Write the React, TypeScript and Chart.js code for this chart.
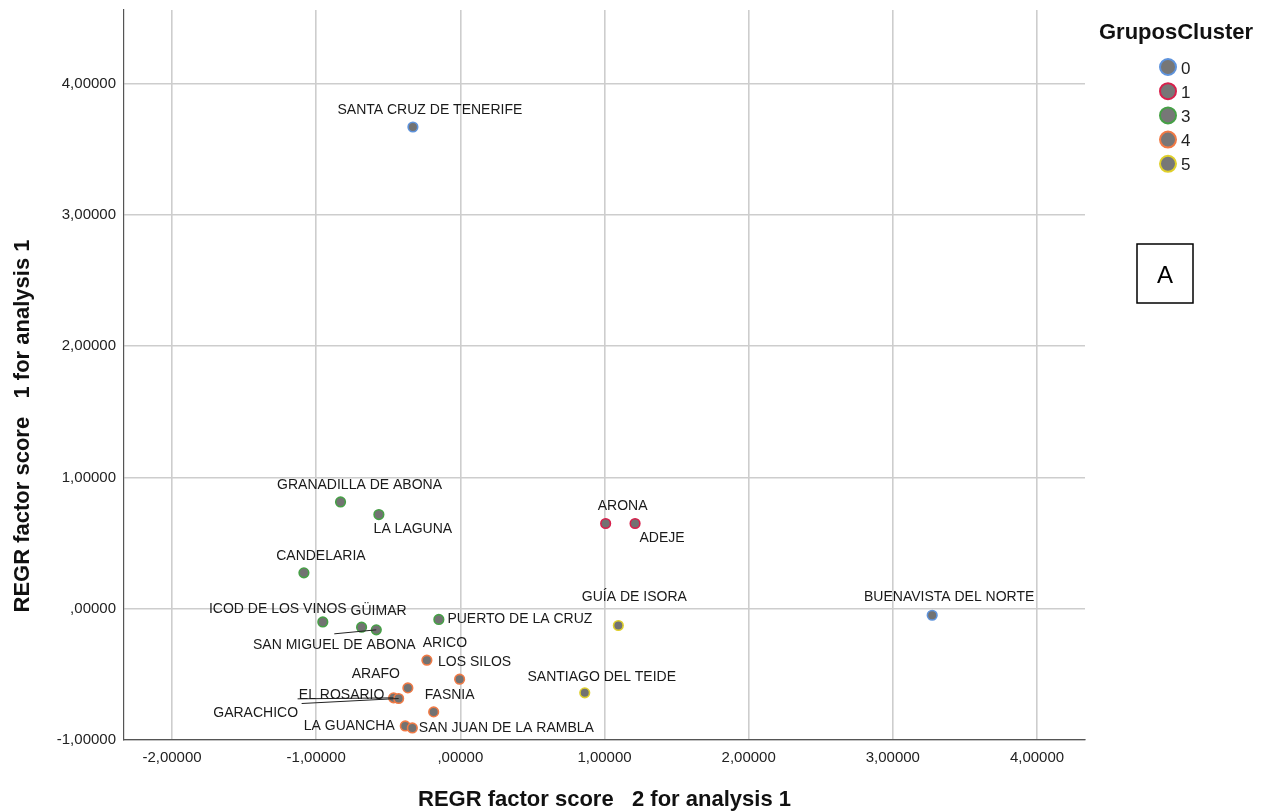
import React, { useEffect, useRef } from "react";
import { Chart, registerables } from "chart.js";

Chart.register(...registerables);

// ---------- data ----------
const municipalities = [
  "SANTA CRUZ DE TENERIFE",
  "BUENAVISTA DEL NORTE",
  "ARONA",
  "ADEJE",
  "GRANADILLA DE ABONA",
  "LA LAGUNA",
  "CANDELARIA",
  "ICOD DE LOS VINOS",
  "GÜIMAR",
  "SAN MIGUEL DE ABONA",
  "PUERTO DE LA CRUZ",
  "ARICO",
  "LOS SILOS",
  "ARAFO",
  "EL ROSARIO",
  "GARACHICO",
  "FASNIA",
  "LA GUANCHA",
  "SAN JUAN DE LA RAMBLA",
  "GUÍA DE ISORA",
  "SANTIAGO DEL TEIDE",
];

// REGR factor score 2 for analysis 1 (x)
const factorScore2 = [
  -0.329, 3.273, 1.008, 1.212, -0.831, -0.565, -1.085, -0.954, -0.685, -0.583,
  -0.149, -0.232, -0.005, -0.364, -0.463, -0.428, -0.185, -0.382, -0.333, 1.096,
  0.863,
];

// REGR factor score 1 for analysis 1 (y)
const factorScore1 = [
  3.669, -0.05, 0.649, 0.649, 0.813, 0.717, 0.273, -0.101, -0.141, -0.161,
  -0.082, -0.392, -0.537, -0.603, -0.679, -0.684, -0.786, -0.893, -0.908, -0.128,
  -0.641,
];

const clusterOf = [0, 0, 1, 1, 3, 3, 3, 3, 3, 3, 3, 4, 4, 4, 4, 4, 4, 4, 4, 5, 5];

const clusterIds = [0, 1, 3, 4, 5];
const clusterColors = ["#5e93dc", "#d8204c", "#46a046", "#f07a45", "#e0d02a"];

const xTickValues = [-2, -1, 0, 1, 2, 3, 4];
const yTickValues = [-1, 0, 1, 2, 3, 4];

const xTitle = "REGR factor score   2 for analysis 1";
const yTitle = "REGR factor score   1 for analysis 1";
const legendTitle = "GruposCluster";
const boxLabel = "A";

// ---------- label layout (pixel offsets of label centre from its point; leader line end) ----------
const labelLayout: Record<string, { dx: number; dy: number; lx?: number; ly?: number }> = {
  "SANTA CRUZ DE TENERIFE": { dx: 17, dy: -17 },
  "BUENAVISTA DEL NORTE": { dx: 17, dy: -18 },
  ARONA: { dx: 17, dy: -17 },
  ADEJE: { dx: 27, dy: 15 },
  "GRANADILLA DE ABONA": { dx: 19, dy: -17 },
  "LA LAGUNA": { dx: 34, dy: 15 },
  CANDELARIA: { dx: 17, dy: -17 },
  "ICOD DE LOS VINOS": { dx: -45, dy: -13 },
  "GÜIMAR": { dx: 17, dy: -16 },
  "SAN MIGUEL DE ABONA": { dx: -42, dy: 15, lx: -42, ly: 4 },
  "PUERTO DE LA CRUZ": { dx: 81, dy: 0 },
  ARICO: { dx: 18, dy: -17 },
  "LOS SILOS": { dx: 15, dy: -17 },
  ARAFO: { dx: -32, dy: -14 },
  "EL ROSARIO": { dx: -52, dy: -3, lx: -96, ly: 1 },
  GARACHICO: { dx: -143, dy: 15, lx: -97, ly: 5 },
  FASNIA: { dx: 16, dy: -17 },
  "LA GUANCHA": { dx: -56, dy: 0 },
  "SAN JUAN DE LA RAMBLA": { dx: 94, dy: 0 },
  "GUÍA DE ISORA": { dx: 16, dy: -28 },
  "SANTIAGO DEL TEIDE": { dx: 17, dy: -16 },
};

const FAMILY = '"Liberation Sans", Arial, Helvetica, sans-serif';

const fmt = (v: number) => (v === 0 ? ",00000" : v.toFixed(5).replace(".", ","));

const pointLabelsPlugin = {
  id: "pointLabels",
  afterDatasetsDraw(chart: any) {
    const ctx = chart.ctx as CanvasRenderingContext2D;
    ctx.save();
    chart.data.datasets.forEach((ds: any, di: number) => {
      const meta = chart.getDatasetMeta(di);
      meta.data.forEach((el: any, i: number) => {
        const name = ds.data[i].name as string;
        const lay = labelLayout[name] || { dx: 0, dy: -16 };
        if (lay.lx !== undefined && lay.ly !== undefined) {
          ctx.strokeStyle = "#222";
          ctx.lineWidth = 1;
          ctx.beginPath();
          ctx.moveTo(el.x, el.y);
          ctx.lineTo(el.x + lay.lx, el.y + lay.ly);
          ctx.stroke();
        }
        ctx.fillStyle = "#1a1a1a";
        ctx.font = `14px ${FAMILY}`;
        ctx.textAlign = "center";
        ctx.textBaseline = "middle";
        ctx.fillText(name, el.x + lay.dx, el.y + lay.dy);
      });
    });
    ctx.restore();
  },
};

const decorPlugin = {
  id: "decor",
  afterDraw(chart: any) {
    const ctx = chart.ctx as CanvasRenderingContext2D;
    const area = chart.chartArea;
    ctx.save();
    // axis titles
    ctx.fillStyle = "#111";
    ctx.font = `bold 22px ${FAMILY}`;
    ctx.textAlign = "center";
    ctx.textBaseline = "middle";
    ctx.fillText(xTitle, (area.left + area.right) / 2, 800);
    ctx.save();
    ctx.translate(23, 426);
    ctx.rotate(-Math.PI / 2);
    ctx.fillText(yTitle, 0, 0);
    ctx.restore();

    // legend
    const lx = area.right + 91;
    ctx.fillText(legendTitle, lx, 33);
    clusterIds.forEach((id, i) => {
      const cy = 67 + i * 24.2;
      const cx = lx - 8;
      ctx.beginPath();
      ctx.arc(cx, cy, 8, 0, Math.PI * 2);
      ctx.fillStyle = "#777777";
      ctx.fill();
      ctx.lineWidth = 2;
      ctx.strokeStyle = clusterColors[i];
      ctx.stroke();
      ctx.fillStyle = "#222";
      ctx.font = `17px ${FAMILY}`;
      ctx.textAlign = "left";
      ctx.fillText(String(id), cx + 13, cy + 2);
    });

    // box "A"
    ctx.strokeStyle = "#000";
    ctx.lineWidth = 1.5;
    ctx.strokeRect(1137, 244, 56, 59);
    ctx.fillStyle = "#000";
    ctx.font = `24px ${FAMILY}`;
    ctx.textAlign = "center";
    ctx.fillText(boxLabel, 1165, 276);
    ctx.restore();
  },
};

export default function App() {
  const ref = useRef<HTMLCanvasElement | null>(null);

  useEffect(() => {
    document.body.style.margin = "0";
    const canvas = ref.current;
    if (!canvas) return;

    const datasets = clusterIds.map((id, ci) => ({
      label: String(id),
      data: municipalities
        .map((name, i) => ({ x: factorScore2[i], y: factorScore1[i], name, c: clusterOf[i] }))
        .filter((p) => p.c === id),
      backgroundColor: "#727272",
      borderColor: clusterColors[ci],
      borderWidth: 1.6,
      pointRadius: 4.8,
      pointHoverRadius: 4.8,
    }));

    const tickFont = { size: 15, family: FAMILY };

    const chart = new Chart(canvas, {
      type: "scatter",
      data: { datasets },
      options: {
        animation: false,
        responsive: false,
        events: [],
        layout: { padding: { left: 0, top: 10, right: 185, bottom: 0 } },
        plugins: {
          legend: { display: false },
          tooltip: { enabled: false },
        },
        scales: {
          x: {
            type: "linear",
            min: -2.333,
            max: 4.333,
            afterBuildTicks: (axis: any) => {
              axis.ticks = xTickValues.map((v) => ({ value: v }));
            },
            afterFit: (axis: any) => {
              axis.height = 72;
              axis.paddingLeft = 0;
              axis.paddingRight = 0;
            },
            ticks: {
              font: tickFont,
              color: "#222",
              padding: 9,
              maxRotation: 0,
              autoSkip: false,
              callback: (v: any) => fmt(Number(v)),
            },
            grid: { color: "#cdcdcd", lineWidth: 1.6, drawTicks: false },
            border: { color: "#555", width: 1.2 },
          },
          y: {
            type: "linear",
            min: -1,
            max: 4.56,
            afterBuildTicks: (axis: any) => {
              axis.ticks = yTickValues.map((v) => ({ value: v }));
            },
            afterFit: (axis: any) => {
              axis.width = 124;
              axis.paddingTop = 0;
              axis.paddingBottom = 0;
            },
            ticks: {
              font: tickFont,
              color: "#222",
              padding: 8,
              autoSkip: false,
              callback: (v: any) => fmt(Number(v)),
            },
            grid: { color: "#cdcdcd", lineWidth: 1.6, drawTicks: false },
            border: { color: "#555", width: 1.2 },
          },
        },
      } as any,
      plugins: [pointLabelsPlugin, decorPlugin],
    });

    return () => chart.destroy();
  }, []);

  return (
    <div style={{ width: 1270, height: 812, background: "#fff" }}>
      <canvas ref={ref} width={1270} height={812} style={{ display: "block" }} />
    </div>
  );
}
